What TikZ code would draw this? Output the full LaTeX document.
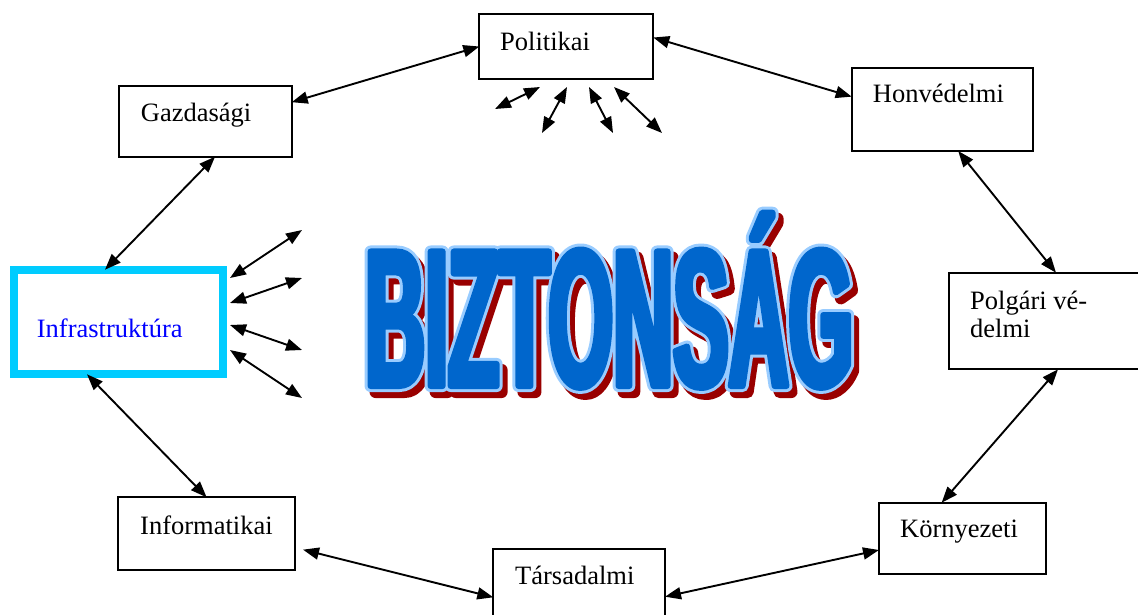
\documentclass[tikz,border=0pt]{standalone}
\usepackage{fontspec}
\setmainfont{Liberation Serif}
\newfontfamily\bigsans{Liberation Sans}[FakeStretch=0.4255]
\usetikzlibrary{arrows.meta,calc}
\definecolor{wablue}{HTML}{0066CC}
\definecolor{walight}{HTML}{99CCFF}
\definecolor{wared}{HTML}{990000}
\definecolor{infcyan}{HTML}{00CCFF}
\newcommand{\bigword}{{\bigsans\bfseries\fontsize{195.5}{200}\selectfont BIZTONSÁG}}
% #1 stroke width, #2 stroke colour (rgb triple)
\newcommand{\strokeword}[2]{\special{pdf:literal direct 2 Tr #1 w 1 j 1 J #2 RG}\bigword\special{pdf:literal direct 0 Tr}}
\tikzset{
  box/.style={draw=black, line width=2pt, rectangle, outer sep=0pt, inner sep=0pt, anchor=north west},
  lbl/.style={anchor=base west, inner sep=0pt, font=\fontsize{26.5}{29}\selectfont},
  link/.style={line width=1.9pt, {Triangle[length=16pt,width=12pt]}-{Triangle[length=16pt,width=12pt]}},
  word/.style={anchor=base west, inner sep=0pt, outer sep=0pt},
}
\begin{document}
\begin{tikzpicture}[x=1pt,y=-1pt]
\useasboundingbox (0,0) rectangle (1138,614);
\clip (0,0) rectangle (1138,614);

% word art: shadow, light outline, blue face
\coordinate (w) at (365,386);
\begin{scope}
\node[word, text=wared] (wshadow) at ($(w)+(5,6)$) {\strokeword{12}{0.6 0 0}};
\end{scope}
\begin{scope}
\node[word, text=walight] (wout) at (w) {\strokeword{12}{0.6 0.8 1}};
\end{scope}
\begin{scope}
\node[word, text=wablue] (wface) at (w) {\strokeword{6}{0 0.4 0.8}};
\end{scope}

% boxes
\node[box, minimum width=174pt, minimum height=64.4pt] (pol) at (479.3,14.3) {};
\node[box, minimum width=172.7pt, minimum height=71pt] (gaz) at (119,85.7) {};
\node[box, minimum width=181pt, minimum height=82.7pt] (hon) at (851.7,68.3) {};
\node[box, minimum width=201pt, minimum height=96.6pt] (polg) at (949,272.7) {};
\node[box, draw=infcyan, line width=8pt, minimum width=209pt, minimum height=104.6pt] (inf) at (13.5,269.7) {};
\node[box, minimum width=176.7pt, minimum height=72.7pt] (infm) at (118.3,497.3) {};
\node[box, minimum width=171.7pt, minimum height=80.7pt] (tar) at (493.3,549.3) {};
\node[box, minimum width=166.7pt, minimum height=71.6pt] (kor) at (879,502.7) {};

% labels
\node[lbl] at (500,50) {Politikai};
\node[lbl] at (140.7,121.7) {Gazdasági};
\node[lbl] at (872.7,102.7) {Honvédelmi};
\node[lbl] at (970,309) {Polgári vé-};
\node[lbl] at (970,337.7) {delmi};
\node[lbl, text=blue] at (36.7,337.7) {Infrastruktúra};
\node[lbl] at (140,534) {Informatikai};
\node[lbl] at (515,584) {Társadalmi};
\node[lbl] at (900,537.3) {Környezeti};

% connectors around the ring
\draw[link] (pol.west) -- ([yshift=19pt]gaz.east);
\draw[link] ([yshift=9pt]pol.east) -- ([yshift=13pt]hon.west);
\draw[link] ([xshift=16pt]hon.south) -- ([xshift=107pt]polg.north west);
\draw[link] ([xshift=109pt]polg.south west) -- ([xshift=-20.7pt]kor.north);
\draw[link] ([yshift=-11.5pt]kor.west) -- ([yshift=-47.4pt]tar.north east);
\draw[link] ([yshift=-48pt]tar.north west) -- ([xshift=8pt,yshift=-16pt]infm.east);
\draw[link] (infm.north) -- ([xshift=-31pt]inf.south);
\draw[link] ([xshift=-13pt]inf.north) -- ([xshift=9.7pt]gaz.south);

% small arrows below Politikai
\coordinate (p1a) at (495,109); \coordinate (p1b) at (540,87);
\coordinate (p2a) at (542,133); \coordinate (p2b) at (567,87);
\coordinate (p3a) at (589,87);  \coordinate (p3b) at (613,133);
\coordinate (p4a) at (614,87);  \coordinate (p4b) at (662,133);
\draw[link] (p1a) -- (p1b);
\draw[link] (p2a) -- (p2b);
\draw[link] (p3a) -- (p3b);
\draw[link] (p4a) -- (p4b);

% small arrows right of Infrastruktura
\coordinate (i1a) at (230,278); \coordinate (i1b) at (302,230);
\coordinate (i2a) at (230,303); \coordinate (i2b) at (302,278);
\coordinate (i3a) at (230,325); \coordinate (i3b) at (302,350);
\coordinate (i4a) at (230,350); \coordinate (i4b) at (302,398);
\draw[link] (i1a) -- (i1b);
\draw[link] (i2a) -- (i2b);
\draw[link] (i3a) -- (i3b);
\draw[link] (i4a) -- (i4b);
\end{tikzpicture}
\end{document}
